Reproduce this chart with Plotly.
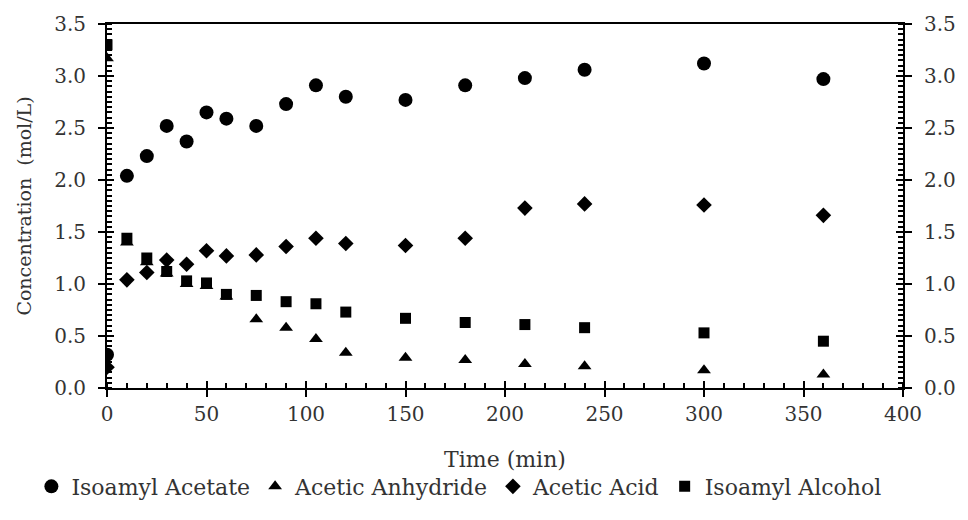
import plotly.graph_objects as go

time = [0, 10, 20, 30, 40, 50, 60, 75, 90, 105, 120, 150, 180, 210, 240, 300, 360]
isoamyl_acetate = [0.32, 2.04, 2.23, 2.52, 2.37, 2.65, 2.59, 2.52, 2.73, 2.91, 2.80, 2.77, 2.91, 2.98, 3.06, 3.12, 2.97]
acetic_anhydride = [3.17, 1.40, 1.21, 1.10, 1.00, 0.98, 0.88, 0.66, 0.58, 0.47, 0.34, 0.29, 0.27, 0.23, 0.21, 0.17, 0.13]
acetic_acid = [0.20, 1.04, 1.11, 1.23, 1.19, 1.32, 1.27, 1.28, 1.36, 1.44, 1.39, 1.37, 1.44, 1.73, 1.77, 1.76, 1.66]
isoamyl_alcohol = [3.30, 1.44, 1.25, 1.12, 1.03, 1.01, 0.90, 0.89, 0.83, 0.81, 0.73, 0.67, 0.63, 0.61, 0.58, 0.53, 0.45]

series = [
    ("Isoamyl Acetate", isoamyl_acetate, "circle", 14),
    ("Acetic Anhydride", acetic_anhydride, "triangle-up", 12),
    ("Acetic Acid", acetic_acid, "diamond", 12),
    ("Isoamyl Alcohol", isoamyl_alcohol, "square", 11),
]

FONT = "DejaVu Serif"
TXT = "#333333"

fig = go.Figure()
for name, vals, sym, sz in series:
    fig.add_trace(go.Scatter(x=time, y=vals, mode="markers", name=name,
                             marker=dict(symbol=sym, size=sz, color="black")))

# invisible helper traces so that the overlay (tick-only) axes get drawn
for xa, ya in [("x2", "y"), ("x", "y2"), ("x", "y3"), ("x", "y4")]:
    fig.add_trace(go.Scatter(x=time, y=isoamyl_acetate, xaxis=xa, yaxis=ya, mode="markers",
                             marker=dict(opacity=0, size=1), showlegend=False, hoverinfo="skip"))

xr = [0, 400]
yr = [0, 3.5]
common_y = dict(range=yr, dtick=0.5, tick0=0, showgrid=False, zeroline=False, tickformat=".1f")
minor_y = dict(ticks="inside", dtick=0.05, tick0=0, ticklen=5, tickwidth=1.5, tickcolor="black", showgrid=False)
tickfont = dict(family=FONT, size=20, color=TXT)
fig.update_layout(
    width=968, height=520,
    margin=dict(l=107, r=63, t=24, b=132),
    paper_bgcolor="white", plot_bgcolor="white",
    font=dict(family=FONT, size=17, color=TXT),
    showlegend=True,
    legend=dict(orientation="h", x=-0.095, xanchor="left", xref="paper",
                y=-0.213, yanchor="top", yref="paper",
                font=dict(family=FONT, size=22, color=TXT),
                itemwidth=30, tracegroupgap=0),
    xaxis=dict(range=xr, dtick=50, tick0=0, showgrid=False, zeroline=False,
               showline=True, linecolor="black", linewidth=2, mirror=True,
               ticks="outside", ticklen=7, tickwidth=2, tickcolor="black",
               minor=dict(ticks="inside", dtick=10, tick0=0, ticklen=5, tickwidth=1.5, tickcolor="black", showgrid=False),
               tickfont=tickfont,
               title=dict(text="Time (min)", font=dict(family=FONT, size=22, color=TXT), standoff=27)),
    xaxis2=dict(range=xr, dtick=50, tick0=0, overlaying="x", side="bottom", anchor="y",
                showgrid=False, zeroline=False, showline=False, showticklabels=False,
                ticks="inside", ticklen=7, tickwidth=2, tickcolor="black"),
    yaxis=dict(**common_y, showline=True, linecolor="black", linewidth=2,
               ticks="outside", ticklen=7, tickwidth=2, tickcolor="black",
               minor=minor_y, ticklabelstandoff=8,
               tickfont=tickfont,
               title=dict(text="Concentration  (mol/L)", font=dict(family=FONT, size=19, color=TXT), standoff=18)),
    yaxis2=dict(**common_y, overlaying="y", side="right", anchor="x",
                showline=True, linecolor="black", linewidth=2,
                ticks="outside", ticklen=7, tickwidth=2, tickcolor="black",
                minor=minor_y, showticklabels=True, ticklabelstandoff=8,
                tickfont=tickfont),
    yaxis3=dict(**common_y, overlaying="y", side="left", anchor="x",
                showline=False, showticklabels=False,
                ticks="inside", ticklen=7, tickwidth=2, tickcolor="black"),
    yaxis4=dict(**common_y, overlaying="y", side="right", anchor="x",
                showline=False, showticklabels=False,
                ticks="inside", ticklen=7, tickwidth=2, tickcolor="black"),
)

fig.write_html("out.html")
